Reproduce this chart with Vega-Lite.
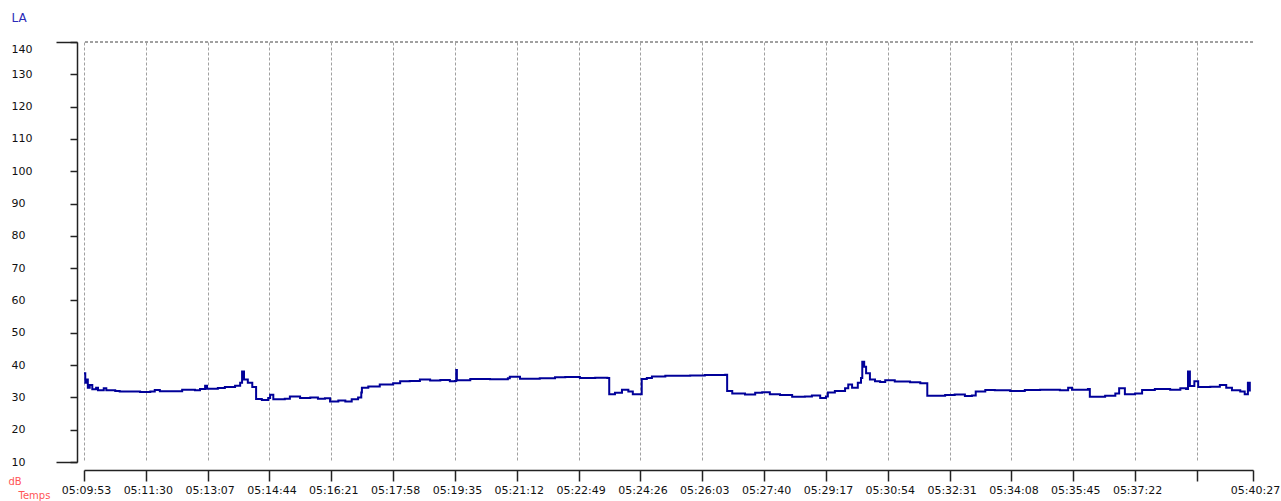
{
  "$schema": "https://vega.github.io/schema/vega-lite/v6.json",
  "autosize": {"type": "none"},
  "padding": {"left": 84, "top": 42, "right": 28, "bottom": 39},
  "width": 1169,
  "height": 420,
  "background": "white",
  "config": {"view": {"stroke": null}, "font": "DejaVu Sans"},
  "data": {
    "values": [
      {"t": "05:09:53", "db": 37.5}, {"t": "05:09:55", "db": 34.5}, {"t": "05:09:56", "db": 35.5}, {"t": "05:09:59", "db": 33.0},
      {"t": "05:10:02", "db": 33.8}, {"t": "05:10:06", "db": 32.5}, {"t": "05:10:12", "db": 33.0}, {"t": "05:10:15", "db": 32.2},
      {"t": "05:10:24", "db": 32.8}, {"t": "05:10:28", "db": 32.2}, {"t": "05:10:42", "db": 32.0}, {"t": "05:10:49", "db": 31.8},
      {"t": "05:11:05", "db": 31.8}, {"t": "05:11:21", "db": 31.7}, {"t": "05:11:37", "db": 31.8}, {"t": "05:11:44", "db": 32.3},
      {"t": "05:11:52", "db": 31.9}, {"t": "05:12:16", "db": 31.9}, {"t": "05:12:27", "db": 32.4}, {"t": "05:12:47", "db": 32.2},
      {"t": "05:12:55", "db": 32.6}, {"t": "05:13:03", "db": 33.6}, {"t": "05:13:06", "db": 32.7}, {"t": "05:13:23", "db": 32.9},
      {"t": "05:13:34", "db": 33.2}, {"t": "05:13:50", "db": 33.6}, {"t": "05:13:58", "db": 34.5}, {"t": "05:14:01", "db": 38.0},
      {"t": "05:14:04", "db": 35.5}, {"t": "05:14:10", "db": 34.5}, {"t": "05:14:17", "db": 33.2}, {"t": "05:14:23", "db": 29.5},
      {"t": "05:14:32", "db": 29.2}, {"t": "05:14:42", "db": 29.8}, {"t": "05:14:45", "db": 30.8}, {"t": "05:14:50", "db": 29.4},
      {"t": "05:15:08", "db": 29.6}, {"t": "05:15:16", "db": 30.3}, {"t": "05:15:32", "db": 29.8}, {"t": "05:15:48", "db": 30.0},
      {"t": "05:16:00", "db": 29.6}, {"t": "05:16:11", "db": 29.7}, {"t": "05:16:19", "db": 28.7}, {"t": "05:16:32", "db": 29.0},
      {"t": "05:16:43", "db": 28.7}, {"t": "05:16:53", "db": 29.4}, {"t": "05:17:03", "db": 30.0}, {"t": "05:17:08", "db": 31.5},
      {"t": "05:17:09", "db": 33.0}, {"t": "05:17:19", "db": 33.4}, {"t": "05:17:37", "db": 34.0}, {"t": "05:17:58", "db": 34.4},
      {"t": "05:18:09", "db": 35.0}, {"t": "05:18:24", "db": 35.1}, {"t": "05:18:40", "db": 35.5}, {"t": "05:18:56", "db": 35.2},
      {"t": "05:19:12", "db": 35.4}, {"t": "05:19:27", "db": 35.0}, {"t": "05:19:35", "db": 35.1}, {"t": "05:19:37", "db": 38.5},
      {"t": "05:19:38", "db": 35.3}, {"t": "05:19:59", "db": 35.7}, {"t": "05:20:30", "db": 35.6}, {"t": "05:20:58", "db": 35.9},
      {"t": "05:21:01", "db": 36.4}, {"t": "05:21:17", "db": 35.8}, {"t": "05:21:48", "db": 35.9}, {"t": "05:22:12", "db": 36.2},
      {"t": "05:22:28", "db": 36.3}, {"t": "05:22:51", "db": 36.0}, {"t": "05:23:15", "db": 36.1}, {"t": "05:23:34", "db": 36.0},
      {"t": "05:23:37", "db": 31.0}, {"t": "05:23:46", "db": 31.4}, {"t": "05:23:57", "db": 32.4}, {"t": "05:24:07", "db": 31.8},
      {"t": "05:24:14", "db": 31.0}, {"t": "05:24:27", "db": 31.0}, {"t": "05:24:28", "db": 35.7}, {"t": "05:24:36", "db": 36.0},
      {"t": "05:24:44", "db": 36.5}, {"t": "05:25:05", "db": 36.7}, {"t": "05:25:44", "db": 36.8}, {"t": "05:26:07", "db": 36.9},
      {"t": "05:26:39", "db": 37.0}, {"t": "05:26:42", "db": 32.0}, {"t": "05:26:50", "db": 31.2}, {"t": "05:27:10", "db": 30.9},
      {"t": "05:27:26", "db": 31.4}, {"t": "05:27:37", "db": 31.6}, {"t": "05:27:49", "db": 31.0}, {"t": "05:28:05", "db": 30.7},
      {"t": "05:28:24", "db": 30.2}, {"t": "05:28:44", "db": 30.3}, {"t": "05:28:55", "db": 30.6}, {"t": "05:29:08", "db": 29.8},
      {"t": "05:29:17", "db": 30.3}, {"t": "05:29:20", "db": 31.5}, {"t": "05:29:31", "db": 32.0}, {"t": "05:29:47", "db": 32.8},
      {"t": "05:29:52", "db": 34.0}, {"t": "05:29:58", "db": 33.0}, {"t": "05:30:07", "db": 34.5}, {"t": "05:30:12", "db": 36.0},
      {"t": "05:30:14", "db": 41.0}, {"t": "05:30:17", "db": 39.5}, {"t": "05:30:20", "db": 37.5}, {"t": "05:30:26", "db": 35.5},
      {"t": "05:30:34", "db": 35.0}, {"t": "05:30:42", "db": 34.8}, {"t": "05:30:50", "db": 35.3}, {"t": "05:31:05", "db": 34.9},
      {"t": "05:31:29", "db": 34.7}, {"t": "05:31:45", "db": 34.4}, {"t": "05:31:56", "db": 30.5}, {"t": "05:32:24", "db": 30.7},
      {"t": "05:32:39", "db": 30.9}, {"t": "05:32:55", "db": 30.4}, {"t": "05:33:06", "db": 30.6}, {"t": "05:33:12", "db": 31.8},
      {"t": "05:33:27", "db": 32.3}, {"t": "05:33:42", "db": 32.2}, {"t": "05:34:06", "db": 32.0}, {"t": "05:34:29", "db": 32.3},
      {"t": "05:34:53", "db": 32.4}, {"t": "05:35:24", "db": 32.2}, {"t": "05:35:37", "db": 33.0}, {"t": "05:35:43", "db": 32.4},
      {"t": "05:36:08", "db": 32.6}, {"t": "05:36:11", "db": 30.2}, {"t": "05:36:35", "db": 30.5}, {"t": "05:36:51", "db": 31.2},
      {"t": "05:36:57", "db": 32.8}, {"t": "05:37:06", "db": 31.0}, {"t": "05:37:22", "db": 31.2}, {"t": "05:37:33", "db": 32.3},
      {"t": "05:37:53", "db": 32.6}, {"t": "05:38:17", "db": 32.4}, {"t": "05:38:33", "db": 32.8}, {"t": "05:38:42", "db": 32.6},
      {"t": "05:38:45", "db": 38.0}, {"t": "05:38:48", "db": 33.5}, {"t": "05:38:55", "db": 35.0}, {"t": "05:39:01", "db": 33.2},
      {"t": "05:39:20", "db": 33.3}, {"t": "05:39:35", "db": 33.8}, {"t": "05:39:45", "db": 33.0}, {"t": "05:39:54", "db": 32.2},
      {"t": "05:40:07", "db": 31.8}, {"t": "05:40:14", "db": 31.0}, {"t": "05:40:19", "db": 34.5}, {"t": "05:40:22", "db": 31.8}
    ],
    "format": {"parse": {"t": "date:'%H:%M:%S'"}}
  },
  "resolve": {"axis": {"y": "independent"}},
  "layer": [
    {
      "mark": {"type": "line", "interpolate": "step-after", "color": "#000099", "strokeWidth": 2},
      "encoding": {
        "x": {
          "field": "t",
          "type": "temporal",
          "scale": {
            "domain": [
              {"year": 1900, "month": 1, "date": 1, "hours": 5, "minutes": 9, "seconds": 53},
              {"year": 1900, "month": 1, "date": 1, "hours": 5, "minutes": 40, "seconds": 27}
            ],
            "nice": false
          },
          "axis": {
            "values": [
              {"year": 1900, "month": 1, "date": 1, "hours": 5, "minutes": 9, "seconds": 53},
              {"year": 1900, "month": 1, "date": 1, "hours": 5, "minutes": 11, "seconds": 30},
              {"year": 1900, "month": 1, "date": 1, "hours": 5, "minutes": 13, "seconds": 7},
              {"year": 1900, "month": 1, "date": 1, "hours": 5, "minutes": 14, "seconds": 44},
              {"year": 1900, "month": 1, "date": 1, "hours": 5, "minutes": 16, "seconds": 21},
              {"year": 1900, "month": 1, "date": 1, "hours": 5, "minutes": 17, "seconds": 58},
              {"year": 1900, "month": 1, "date": 1, "hours": 5, "minutes": 19, "seconds": 35},
              {"year": 1900, "month": 1, "date": 1, "hours": 5, "minutes": 21, "seconds": 12},
              {"year": 1900, "month": 1, "date": 1, "hours": 5, "minutes": 22, "seconds": 49},
              {"year": 1900, "month": 1, "date": 1, "hours": 5, "minutes": 24, "seconds": 26},
              {"year": 1900, "month": 1, "date": 1, "hours": 5, "minutes": 26, "seconds": 3},
              {"year": 1900, "month": 1, "date": 1, "hours": 5, "minutes": 27, "seconds": 40},
              {"year": 1900, "month": 1, "date": 1, "hours": 5, "minutes": 29, "seconds": 17},
              {"year": 1900, "month": 1, "date": 1, "hours": 5, "minutes": 30, "seconds": 54},
              {"year": 1900, "month": 1, "date": 1, "hours": 5, "minutes": 32, "seconds": 31},
              {"year": 1900, "month": 1, "date": 1, "hours": 5, "minutes": 34, "seconds": 8},
              {"year": 1900, "month": 1, "date": 1, "hours": 5, "minutes": 35, "seconds": 45},
              {"year": 1900, "month": 1, "date": 1, "hours": 5, "minutes": 37, "seconds": 22},
              {"year": 1900, "month": 1, "date": 1, "hours": 5, "minutes": 38, "seconds": 59},
              {"year": 1900, "month": 1, "date": 1, "hours": 5, "minutes": 40, "seconds": 27}
            ],
            "format": "%H:%M:%S",
            "labelExpr": "datum.label == '05:38:59' ? '' : datum.label",
            "offset": 8,
            "domainColor": "#222222",
            "domainWidth": 1.5,
            "tickColor": "#222222",
            "tickWidth": 1.5,
            "tickSize": 11,
            "labelPadding": 3,
            "labelOffset": 2,
            "labelFont": "DejaVu Sans",
            "labelFontSize": 11,
            "labelColor": "#111111",
            "labelFlush": false,
            "labelOverlap": false,
            "labelBound": false,
            "grid": true,
            "gridColor": "#a0a0a0",
            "gridDash": [3, 2],
            "gridWidth": 1,
            "gridOpacity": {"condition": {"test": "datum.index == 1", "value": 0}, "value": 1},
            "title": "Temps",
            "titleFont": "DejaVu Sans",
            "titleFontSize": 10,
            "titleFontWeight": "normal",
            "titleColor": "#ff5555",
            "titleAlign": "left",
            "titleBaseline": "middle",
            "titleAngle": 0,
            "titleX": -66,
            "titleY": 25.5
          }
        },
        "y": {
          "field": "db",
          "type": "quantitative",
          "scale": {"domain": [10, 140], "nice": false, "zero": false},
          "axis": {
            "orient": "left",
            "values": [10, 20, 30, 40, 50, 60, 70, 80, 90, 100, 110, 120, 130, 140],
            "offset": 7,
            "domainColor": "#222222",
            "domainWidth": 1.5,
            "tickColor": "#222222",
            "tickWidth": 1.5,
            "tickSize": 7,
            "labelAlign": "left",
            "labelBaseline": "middle",
            "labelPadding": 59,
            "labelOffset": {"condition": {"test": "datum.value == 140", "value": 7}, "value": 0},
            "labelFont": "DejaVu Sans",
            "labelFontSize": 11,
            "labelColor": "#111111",
            "labelBound": false,
            "labelFlush": false,
            "labelOverlap": false,
            "grid": false,
            "title": "LA",
            "titleFont": "DejaVu Sans",
            "titleFontSize": 12,
            "titleFontWeight": "normal",
            "titleColor": "#2a2ab8",
            "titleAlign": "left",
            "titleBaseline": "middle",
            "titleAngle": 0,
            "titleX": -66,
            "titleY": -24.5
          }
        }
      }
    },
    {
      "mark": {"type": "rule", "color": "#a0a0a0", "strokeDash": [3, 2], "strokeWidth": 1},
      "encoding": {
        "y": {
          "datum": 140,
          "type": "quantitative",
          "axis": {
            "orient": "left",
            "values": [10, 140],
            "offset": 7,
            "domain": false,
            "labels": false,
            "grid": false,
            "tickColor": "#222222",
            "tickWidth": 1.5,
            "tickSize": 21,
            "title": "dB",
            "titleFont": "DejaVu Sans",
            "titleFontSize": 10,
            "titleFontWeight": "normal",
            "titleColor": "#ff5555",
            "titleAlign": "left",
            "titleBaseline": "middle",
            "titleAngle": 0,
            "titleX": -69,
            "titleY": 439
          }
        }
      }
    }
  ]
}
